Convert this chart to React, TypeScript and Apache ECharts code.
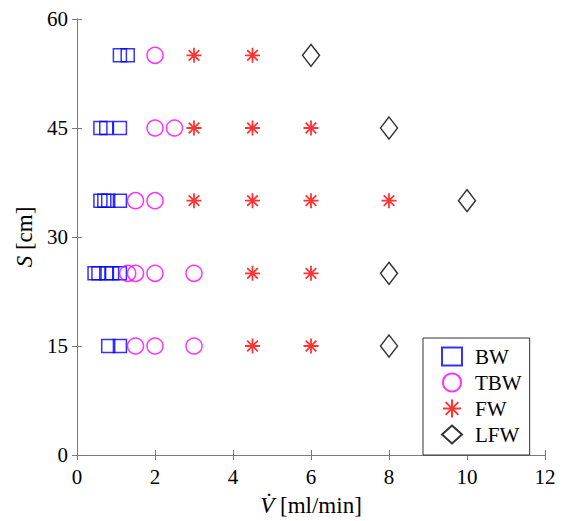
import React, { useEffect, useRef } from "react";
import * as echarts from "echarts";

const xTicks = [0, 2, 4, 6, 8, 10, 12];
const yTicks = [0, 15, 30, 45, 60];

const bwData: number[][] = [
  [1.1, 55], [1.3, 55],
  [0.6, 45], [0.75, 45], [1.1, 45],
  [0.6, 35], [0.7, 35], [0.8, 35], [1.1, 35],
  [0.45, 25], [0.55, 25], [0.75, 25], [0.9, 25], [1.1, 25],
  [0.8, 15], [1.1, 15],
];
const tbwData: number[][] = [
  [2, 55],
  [2, 45], [2.5, 45],
  [1.5, 35], [2, 35],
  [1.3, 25], [1.5, 25], [2, 25], [3, 25],
  [1.5, 15], [2, 15], [3, 15],
];
const fwData: number[][] = [
  [3, 55], [4.5, 55],
  [3, 45], [4.5, 45], [6, 45],
  [3, 35], [4.5, 35], [6, 35], [8, 35],
  [4.5, 25], [6, 25],
  [4.5, 15], [6, 15],
];
const lfwData: number[][] = [
  [6, 55], [8, 45], [10, 35], [8, 25], [8, 15],
];

const FONT = "Liberation Serif";
const AXIS_COLOR = "#7a7a7a";
const STAR = "path://M0,-10L0,10M-10,0L10,0M-7.07,-7.07L7.07,7.07M-7.07,7.07L7.07,-7.07";

export default function App() {
  const ref = useRef<HTMLDivElement>(null);
  useEffect(() => {
    if (!ref.current) return;
    const chart = echarts.init(ref.current, undefined, { renderer: "svg" });
    const axisCommon = {
      min: 0,
      axisLine: { show: true, lineStyle: { color: AXIS_COLOR, width: 1 } },
      axisTick: { show: true, inside: true, length: 5, lineStyle: { color: AXIS_COLOR } },
      splitLine: { show: false },
    };
    chart.setOption({
      animation: false,
      backgroundColor: "#ffffff",
      textStyle: { fontFamily: FONT },
      grid: {
        left: 69,
        right: 14,
        top: 11,
        bottom: 66,
        containLabel: false,
        outerBoundsMode: "none",
      },
      legend: {
        left: 415,
        top: 330,
        orient: "vertical",
        backgroundColor: "#ffffff",
        borderColor: "#333333",
        borderWidth: 1,
        padding: [8, 8, 10, 18],
        itemGap: 5,
        itemWidth: 20,
        itemHeight: 18,
        textStyle: { fontFamily: FONT, fontSize: 21, color: "#000", padding: [0, 0, 0, 8] },
        data: ["BW", "TBW", "FW", "LFW"],
      },
      xAxis: [
        {
          ...axisCommon,
          type: "value",
          max: 12,
          interval: 2,
          position: "bottom",
          axisLabel: { fontFamily: FONT, fontSize: 21, color: "#000", margin: 11 },
          name: "{i|V\u0307} [ml/min]",
          nameLocation: "middle",
          nameGap: 39,
          nameTextStyle: {
            fontFamily: FONT,
            fontSize: 23,
            color: "#000",
            rich: { i: { fontFamily: FONT, fontSize: 23, fontStyle: "italic", color: "#000" } },
          },
        },
        {
          ...axisCommon,
          type: "value",
          max: 12,
          interval: 2,
          position: "top",
          axisLabel: { show: false },
        },
      ],
      yAxis: [
        {
          ...axisCommon,
          type: "value",
          max: 60,
          interval: 15,
          position: "left",
          axisLabel: { fontFamily: FONT, fontSize: 21, color: "#000", margin: 9 },
          name: "{i|S} [cm]",
          nameLocation: "middle",
          nameGap: 38,
          nameRotate: 90,
          nameTextStyle: {
            fontFamily: FONT,
            fontSize: 23,
            color: "#000",
            rich: { i: { fontFamily: FONT, fontSize: 23, fontStyle: "italic", color: "#000" } },
          },
        },
        {
          ...axisCommon,
          type: "value",
          max: 60,
          interval: 15,
          position: "right",
          axisLabel: { show: false },
        },
      ],
      series: [
        {
          name: "BW",
          type: "scatter",
          data: bwData,
          symbol: "rect",
          symbolSize: 13,
          itemStyle: { color: "rgba(0,0,0,0)", borderColor: "#0000ff", borderWidth: 1.5 },
        },
        {
          name: "TBW",
          type: "scatter",
          data: tbwData,
          symbol: "circle",
          symbolSize: 16,
          itemStyle: { color: "rgba(0,0,0,0)", borderColor: "#ff00ff", borderWidth: 1.5 },
        },
        {
          name: "FW",
          type: "scatter",
          data: fwData,
          symbol: STAR,
          symbolSize: 15,
          itemStyle: { color: "rgba(0,0,0,0)", borderColor: "#ff0000", borderWidth: 1.8 },
        },
        {
          name: "LFW",
          type: "scatter",
          data: lfwData,
          symbol: "diamond",
          symbolSize: [17, 22],
          itemStyle: { color: "rgba(0,0,0,0)", borderColor: "#000000", borderWidth: 1.5 },
        },
      ],
    });
    return () => chart.dispose();
  }, []);
  return <div ref={ref} style={{ width: 551, height: 513 }} />;
}
